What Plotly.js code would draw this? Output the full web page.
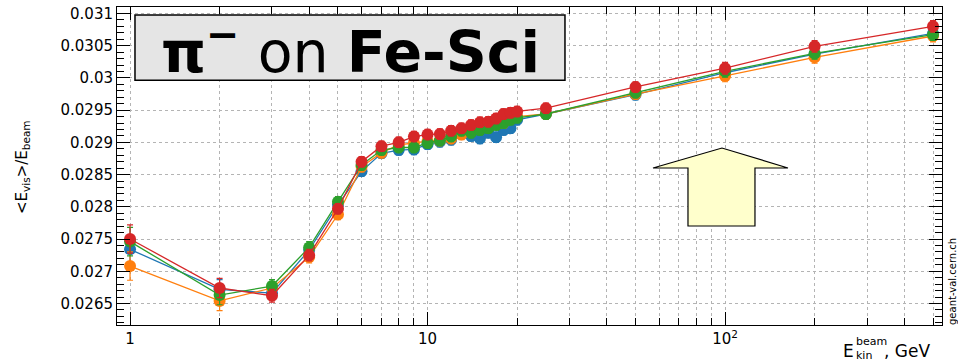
<!DOCTYPE html>
<html>
<head>
<meta charset="utf-8">
<script src="https://cdn.plot.ly/plotly-3.0.1.min.js"></script>
<style>html,body{margin:0;padding:0;background:#fff;}#chart{width:958px;height:362px;}</style>
</head>
<body>
<div id="chart"></div>
<script>
const energies = [1,2,3,4,5,6,7,8,9,10,11,12,13,14,15,16,17,18,19,20,25,50,100,200,500];
const blue   = [0.02734,0.02672,0.02666,0.02733,0.02803,0.02855,0.02883,0.02888,0.02889,0.02897,0.02901,0.02904,0.02913,0.02910,0.02906,0.02915,0.02908,0.02919,0.02922,0.02935,0.02944,0.02974,0.03008,0.03037,0.03069];
const orange = [0.02708,0.02654,0.02674,0.02722,0.02788,0.02862,0.02884,0.02896,0.02899,0.02902,0.02903,0.02906,0.02912,0.02918,0.02922,0.02924,0.02928,0.02930,0.02936,0.02940,0.02944,0.02975,0.03003,0.03032,0.03065];
const green  = [0.02746,0.02663,0.02677,0.02737,0.02808,0.02865,0.02888,0.02892,0.02892,0.02899,0.02903,0.02909,0.02918,0.02915,0.02919,0.02922,0.02927,0.02930,0.02935,0.02938,0.02944,0.02977,0.03010,0.03038,0.03067];
const red    = [0.02750,0.02674,0.02662,0.02725,0.02797,0.02870,0.02894,0.02900,0.02909,0.02912,0.02913,0.02918,0.02922,0.02927,0.02931,0.02932,0.02937,0.02944,0.02946,0.02948,0.02953,0.02986,0.03015,0.03049,0.03080];
const errors = [0.00022,0.00015,0.0001,0.00009,0.00008,0.00008,0.00008,0.00008,0.00008,0.00008,0.00008,0.00008,0.00008,0.00008,0.00008,0.00008,0.00008,0.00008,0.00008,0.00008,0.00008,0.00008,0.00009,0.00009,0.00009];

const yTickVals = [0.0265,0.027,0.0275,0.028,0.0285,0.029,0.0295,0.03,0.0305,0.031];
const yTickText = ["0.0265","0.027","0.0275","0.028","0.0285","0.029","0.0295","0.03","0.0305","0.031"];
const xTickVals = [1,10,100];
const xTickText = ["1","10","10<sup>2</sup>"];
const xMinorVals = [2,3,4,5,6,7,8,9,20,30,40,50,60,70,80,90,200,300,400,500];

const seriesList = [
  {y: blue, color: '#1f77b4'},
  {y: orange, color: '#ff7f0e'},
  {y: green, color: '#2ca02c'},
  {y: red, color: '#d62728'}
];

const traces = seriesList.map(s => ({
  x: energies, y: s.y, type: 'scatter', mode: 'lines+markers',
  line: {color: s.color, width: 1.3},
  marker: {color: s.color, size: 12},
  error_y: {type: 'data', array: errors, visible: true, color: s.color, thickness: 1.2, width: 3},
  showlegend: false, hoverinfo: 'skip'
}));

const F = 'DejaVu Sans, sans-serif';
const gridC = '#b4b4b4';

const layout = {
  width: 958, height: 362,
  margin: {l: 117, r: 16, t: 7, b: 37},
  paper_bgcolor: '#fff', plot_bgcolor: '#fff',
  font: {family: F, size: 14, color: '#000'},
  xaxis: {
    type: 'log', range: [Math.log10(0.904), Math.log10(536)],
    tickmode: 'array', tickvals: xTickVals, ticktext: xTickText,
    ticks: 'inside', ticklen: 13, tickcolor: '#000', tickwidth: 1,
    showline: true, linecolor: '#000', linewidth: 1, mirror: 'allticks',
    showgrid: true, gridcolor: gridC, griddash: 'dot', gridwidth: 1,
    tickfont: {family: F, size: 15},
    minor: {tickmode: 'array', tickvals: xMinorVals, ticks: 'inside', ticklen: 7, tickcolor: '#000',
            showgrid: true, gridcolor: gridC, griddash: 'dot', gridwidth: 1},
    zeroline: false, fixedrange: true
  },
  yaxis: {
    range: [0.026166, 0.0311],
    tickmode: 'array', tickvals: yTickVals, ticktext: yTickText,
    ticks: 'inside', ticklen: 13, tickcolor: '#000', tickwidth: 1,
    showline: true, linecolor: '#000', linewidth: 1, mirror: 'allticks',
    showgrid: true, gridcolor: gridC, griddash: 'dot', gridwidth: 1,
    tickfont: {family: F, size: 15},
    minor: {dtick: 0.0001, tick0: 0.0265, ticks: 'inside', ticklen: 7, tickcolor: '#000', showgrid: false},
    zeroline: false, fixedrange: true
  },
  shapes: [
    {type: 'rect', xref: 'paper', yref: 'paper', x0: 0.0218, x1: 0.543, y0: 0.770, y1: 0.975,
     fillcolor: '#e5e5e5', line: {color: '#000', width: 1.5}, layer: 'above'},
    {type: 'path', xref: 'paper', yref: 'paper',
     path: 'M 0.6497 0.4937 L 0.7333 0.5566 L 0.8133 0.4937 L 0.7733 0.4937 L 0.7733 0.3113 L 0.6921 0.3113 L 0.6921 0.4937 Z',
     fillcolor: '#ffffcc', line: {color: '#000', width: 1.2}, layer: 'above'}
  ],
  annotations: [
    {xref: 'paper', yref: 'paper', x: 0.2825, y: 0.872, xanchor: 'center', yanchor: 'middle', showarrow: false,
     text: '<b>π</b><sup><b>−</b></sup> on <b>Fe-Sci</b>', font: {family: F, size: 57, color: '#000'}},
    {xref: 'paper', yref: 'paper', x: (22 - 117) / 825, y: (325 - 167) / 318, xanchor: 'center', yanchor: 'middle',
     showarrow: false, textangle: -90, text: '&lt;E<sub>vis</sub>&gt;/E<sub>beam</sub>', font: {family: F, size: 15}},
    {xref: 'paper', yref: 'paper', x: (856 - 117) / 825, y: (325 - 351) / 318, xanchor: 'right', yanchor: 'middle',
     showarrow: false, text: 'E', font: {family: F, size: 17}},
    {xref: 'paper', yref: 'paper', x: (854 - 117) / 825, y: (325 - 341) / 318, xanchor: 'left', yanchor: 'middle',
     showarrow: false, text: 'beam', font: {family: F, size: 11}},
    {xref: 'paper', yref: 'paper', x: (854 - 117) / 825, y: (325 - 355) / 318, xanchor: 'left', yanchor: 'middle',
     showarrow: false, text: 'kin', font: {family: F, size: 11}},
    {xref: 'paper', yref: 'paper', x: (882 - 117) / 825, y: (325 - 351) / 318, xanchor: 'left', yanchor: 'middle',
     showarrow: false, text: ', GeV', font: {family: F, size: 17}},
    {xref: 'paper', yref: 'paper', x: (952 - 117) / 825, y: (325 - 282) / 318, xanchor: 'center', yanchor: 'middle',
     showarrow: false, textangle: -90, text: 'geant-val.cern.ch', font: {family: F, size: 10}}
  ]
};

Plotly.newPlot('chart', traces, layout, {displayModeBar: false, staticPlot: true});
</script>
</body>
</html>
